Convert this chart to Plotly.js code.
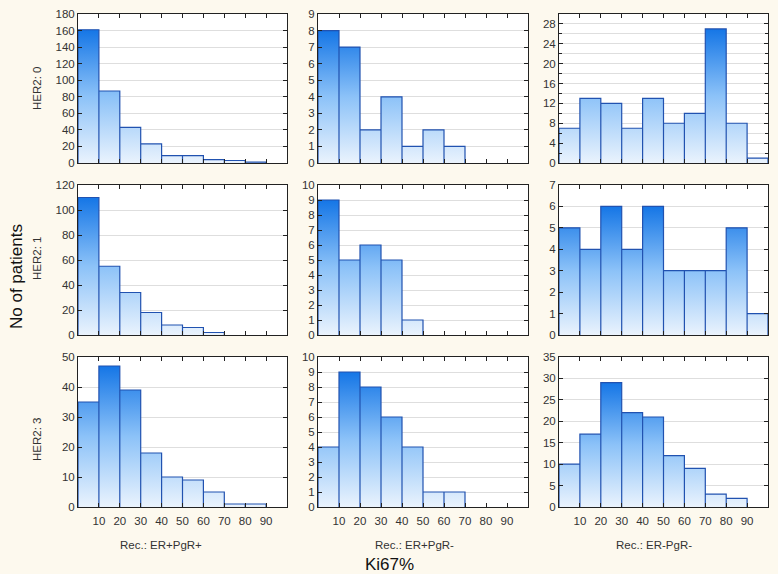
<!DOCTYPE html>
<html>
<head>
<meta charset="utf-8">
<script src="https://cdn.plot.ly/plotly-3.0.1.min.js"></script>
<style>html,body{margin:0;padding:0;background:#fdf9ee;}#chart{width:778px;height:574px;}</style>
</head>
<body>
<div id="chart"></div>
<script>
// Bin edges of Ki67% (0-100 in steps of 10)
const binEdges = [0, 10, 20, 30, 40, 50, 60, 70, 80, 90, 100];
const xTickVals = [10, 20, 30, 40, 50, 60, 70, 80, 90];
const xTickText = ['10', '20', '30', '40', '50', '60', '70', '80', '90'];

const rowLabels = ['HER2: 0', 'HER2: 1', 'HER2: 3'];
const colLabels = ['Rec.: ER+PgR+', 'Rec.: ER+PgR-', 'Rec.: ER-PgR-'];

// Counts of patients per Ki67% bin
const her2_0_ppos = [161, 87, 43, 23, 9, 9, 4, 3, 1, 0];
const her2_0_pneg = [8, 7, 2, 4, 1, 2, 1, 0, 0, 0];
const her2_0_nneg = [7, 13, 12, 7, 13, 8, 10, 27, 8, 1];
const her2_1_ppos = [110, 55, 34, 18, 8, 6, 2, 0, 0, 0];
const her2_1_pneg = [9, 5, 6, 5, 1, 0, 0, 0, 0, 0];
const her2_1_nneg = [5, 4, 6, 4, 6, 3, 3, 3, 5, 1];
const her2_3_ppos = [35, 47, 39, 18, 10, 9, 5, 1, 1, 0];
const her2_3_pneg = [4, 9, 8, 6, 4, 1, 1, 0, 0, 0];
const her2_3_nneg = [10, 17, 29, 22, 21, 12, 9, 3, 2, 0];

// Y axis scales per panel
const yMax = [180, 9, 30, 120, 10, 7, 50, 10, 35];
const yDtick = [20, 1, 4, 20, 1, 1, 10, 1, 5];
const yMinor = [0, 0, 2, 0, 0, 0, 0, 0, 0];

const panels = [her2_0_ppos, her2_0_pneg, her2_0_nneg,
                her2_1_ppos, her2_1_pneg, her2_1_nneg,
                her2_3_ppos, her2_3_pneg, her2_3_nneg];

const W = 778, H = 574;
const colPx = [[78, 287], [318, 528], [559, 768]];
const rowPx = [[14, 163], [185, 335], [357, 507]];

const traces = [];
const layout = {
  width: W, height: H,
  margin: {l: 0, r: 0, t: 0, b: 0},
  paper_bgcolor: '#fdf9ee',
  plot_bgcolor: '#ffffff',
  showlegend: false,
  font: {family: 'Liberation Sans, Arial, sans-serif', size: 11, color: '#333'},
  annotations: []
};

panels.forEach((counts, i) => {
  const r = Math.floor(i / 3), c = i % 3;
  const n = i + 1;
  const xa = 'x' + (n === 1 ? '' : n), ya = 'y' + (n === 1 ? '' : n);
  const xs = [], ys = [];
  counts.forEach((v, k) => {
    if (v <= 0) return;
    const x0 = binEdges[k], x1 = binEdges[k + 1];
    xs.push(x0, x0, x1, x1);
    ys.push(0, v, v, 0);
  });
  const mx = Math.max(...counts);
  traces.push({
    type: 'scatter', mode: 'lines', x: xs, y: ys,
    xaxis: xa, yaxis: ya,
    fill: 'toself',
    fillgradient: {type: 'vertical', colorscale: [[0, '#eaf3fd'], [0.5, '#8cc2f8'], [1, '#1576e6']], start: 0, stop: mx},
    line: {color: '#2152b0', width: 1.2},
    hoverinfo: 'skip'
  });
  const xk = 'xaxis' + (n === 1 ? '' : n), yk = 'yaxis' + (n === 1 ? '' : n);
  layout[xk] = {
    domain: [colPx[c][0] / W, colPx[c][1] / W],
    anchor: ya,
    range: [0, 100], tickmode: 'array', tickvals: xTickVals, ticktext: xTickText,
    showticklabels: r === 2,
    ticks: 'inside', ticklen: 4, tickcolor: '#222',
    showline: true, linecolor: '#222', linewidth: 1, mirror: 'ticks',
    showgrid: false, zeroline: false, fixedrange: true,
    ticklabelstandoff: 3,
    tickfont: {size: 11.5, color: '#333'}
  };
  const yax = {
    domain: [1 - rowPx[r][1] / H, 1 - rowPx[r][0] / H],
    anchor: xa,
    range: [0, yMax[i]], dtick: yDtick[i], tick0: 0,
    ticks: 'inside', ticklen: 4, tickcolor: '#222',
    showline: true, linecolor: '#222', linewidth: 1, mirror: 'ticks',
    showgrid: true, gridcolor: '#dedede', gridwidth: 1,
    zeroline: false, fixedrange: true,
    tickfont: {size: 11.5, color: '#333'}
  };
  if (yMinor[i]) {
    yax.minor = {dtick: yMinor[i], ticks: 'inside', ticklen: 3, tickcolor: '#222', showgrid: true, gridcolor: '#dedede'};
  }
  layout[yk] = yax;
});

// Row labels
const rowLabelY = [89, 259, 440];
rowLabels.forEach((t, r) => {
  layout.annotations.push({
    text: t, xref: 'paper', yref: 'paper', x: 37 / W, y: 1 - rowLabelY[r] / H,
    showarrow: false, textangle: -90, font: {size: 11.5, color: '#333'},
    xanchor: 'center', yanchor: 'middle'
  });
});
// Column labels
const colLabelX = [161, 414, 654];
colLabels.forEach((t, c) => {
  layout.annotations.push({
    text: t, xref: 'paper', yref: 'paper', x: colLabelX[c] / W, y: 1 - 545 / H,
    showarrow: false, font: {size: 11.5, color: '#333'},
    xanchor: 'center', yanchor: 'middle'
  });
});
layout.annotations.push({
  text: 'No of patients', xref: 'paper', yref: 'paper', x: 17 / W, y: 1 - 277 / H,
  showarrow: false, textangle: -90, font: {size: 17, color: '#111'},
  xanchor: 'center', yanchor: 'middle'
});
layout.annotations.push({
  text: 'Ki67%', xref: 'paper', yref: 'paper', x: 390 / W, y: 1 - 564 / H,
  showarrow: false, font: {size: 17, color: '#111'},
  xanchor: 'center', yanchor: 'middle'
});

Plotly.newPlot('chart', traces, layout, {staticPlot: true, displayModeBar: false});
</script>
</body>
</html>
